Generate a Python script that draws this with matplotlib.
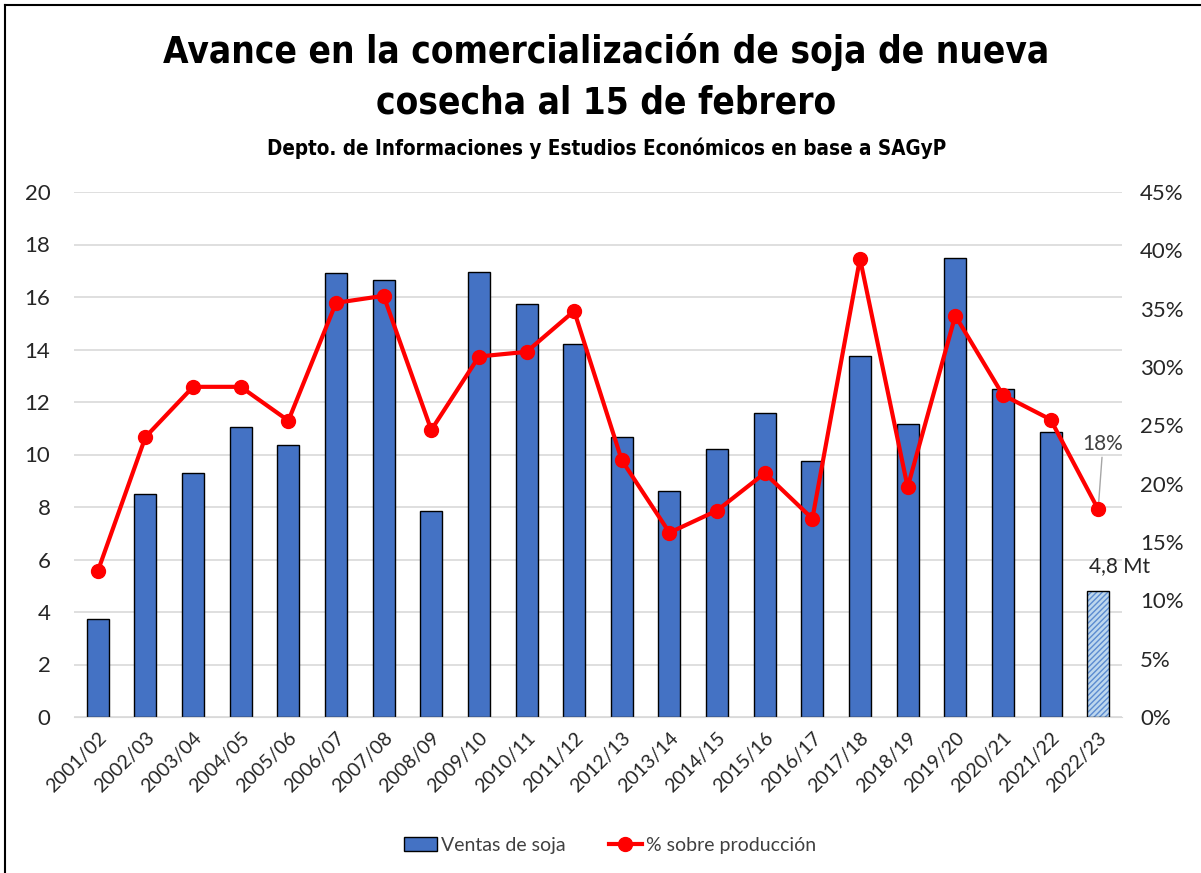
import numpy as np
import matplotlib.pyplot as plt
from matplotlib.lines import Line2D
from matplotlib.patches import Patch

# campaigns
campanias = ['2001/02', '2002/03', '2003/04', '2004/05', '2005/06', '2006/07',
             '2007/08', '2008/09', '2009/10', '2010/11', '2011/12', '2012/13',
             '2013/14', '2014/15', '2015/16', '2016/17', '2017/18', '2018/19',
             '2019/20', '2020/21', '2021/22', '2022/23']

# sales of new-crop soybean at Feb 15 (Mt)
ventas = [3.75, 8.5, 9.3, 11.05, 10.35, 16.9, 16.65, 7.85, 16.95, 15.75, 14.2,
          10.65, 8.6, 10.2, 11.6, 9.75, 13.75, 11.15, 17.5, 12.5, 10.85, 4.8]

# % of production
porcentaje = [12.5, 24.0, 28.3, 28.3, 25.4, 35.5, 36.1, 24.6, 30.9, 31.3, 34.8,
              22.0, 15.8, 17.7, 20.9, 17.0, 39.3, 19.7, 34.4, 27.6, 25.5, 17.8]

plt.rcParams['font.family'] = ['Lato', 'DejaVu Sans']
title_font = ['DejaVu Sans']

fig = plt.figure(figsize=(12.01, 8.73), dpi=100)
ax = fig.add_axes([74 / 1201, 1 - 717 / 873, 1048 / 1201, 525 / 873])
ax2 = ax.twinx()

x = np.arange(len(campanias))
n = len(campanias)

# bars (all but last solid)
ax.bar(x[:-1], ventas[:-1], width=0.46, color='#4472C4', edgecolor='black',
       linewidth=1, zorder=2)
# last bar hatched
ax.bar(x[-1], ventas[-1], width=0.46, color='#BDD7EE', edgecolor='#5B8BD0',
       hatch='//////', linewidth=0, zorder=2)
ax.bar(x[-1], ventas[-1], width=0.46, fill=False, edgecolor='black',
       linewidth=1, zorder=3)

ax.set_ylim(0, 20)
ax.set_yticks(np.arange(0, 21, 2))
ax.set_xlim(-0.5, n - 0.5)
ax.grid(axis='y', color='#D9D9D9', linewidth=1.2, zorder=0)
ax.set_axisbelow(True)
for s in ['top', 'right', 'left']:
    ax.spines[s].set_visible(False)
    ax2.spines[s].set_visible(False)
ax.spines['bottom'].set_color('#D9D9D9')
ax2.spines['bottom'].set_visible(False)

ax.tick_params(axis='y', length=0, pad=17, labelsize=16, labelcolor='#262626')
ax.tick_params(axis='x', length=0, pad=9, labelsize=14, labelcolor='#262626')
ax.set_xticks(x)
ax.set_xticklabels(campanias, rotation=45, ha='right', rotation_mode='anchor')

# line on secondary axis
ax2.plot(x, np.array(porcentaje) / 100, color='#FF0000', linewidth=3,
         marker='o', markersize=10, zorder=4)
ax2.set_ylim(0, 0.45)
ax2.set_yticks(np.arange(0, 0.46, 0.05))
ax2.set_yticklabels(['%d%%' % v for v in range(0, 46, 5)])
ax2.tick_params(axis='y', length=0, pad=13, labelsize=16, labelcolor='#262626')

# annotations
ax2.annotate('18%', xy=(x[-1], porcentaje[-1] / 100),
             xytext=(x[-1] + 0.1, 0.225), fontsize=15, color='#404040',
             ha='center', va='bottom',
             arrowprops=dict(arrowstyle='-', color='#A6A6A6', lw=1,
                             shrinkA=0, shrinkB=4))
ax.annotate('4,8 Mt', xy=(x[-1], ventas[-1]), xytext=(x[-1] + 0.45, ventas[-1] + 0.55),
            fontsize=15, color='#262626', ha='center', va='bottom')

# titles
fig.text(0.505, 1 - 52 / 873, 'Avance en la comercialización de soja de nueva',
         ha='center', va='center', fontsize=26.5, fontweight='bold',
         fontstretch='condensed', family=title_font)
fig.text(0.505, 1 - 103 / 873, 'cosecha al 15 de febrero',
         ha='center', va='center', fontsize=26.5, fontweight='bold',
         fontstretch='condensed', family=title_font)
fig.text(0.505, 1 - 148 / 873, 'Depto. de Informaciones y Estudios Económicos en base a SAGyP',
         ha='center', va='center', fontsize=14.8, fontweight='bold',
         fontstretch='condensed', family=title_font)

# legend
handles = [Patch(facecolor='#4472C4', edgecolor='black', label='Ventas de soja'),
           Line2D([0], [0], color='#FF0000', lw=3, marker='o', markersize=10,
                  label='% sobre producción')]
fig.legend(handles=handles, loc='center', bbox_to_anchor=(0.508, 1 - 845 / 873),
           ncol=2, frameon=False, fontsize=14, handlelength=1.7, handletextpad=0.2,
           columnspacing=2.2, labelcolor='#404040')

# border lines of the figure (left and top)
fig.add_artist(Line2D([5 / 1201, 5 / 1201], [0, 1 - 5 / 873], color='black', lw=1.5))
fig.add_artist(Line2D([5 / 1201, 1], [1 - 5 / 873, 1 - 5 / 873], color='black', lw=1.5))

fig.savefig('out.png', dpi=100)
